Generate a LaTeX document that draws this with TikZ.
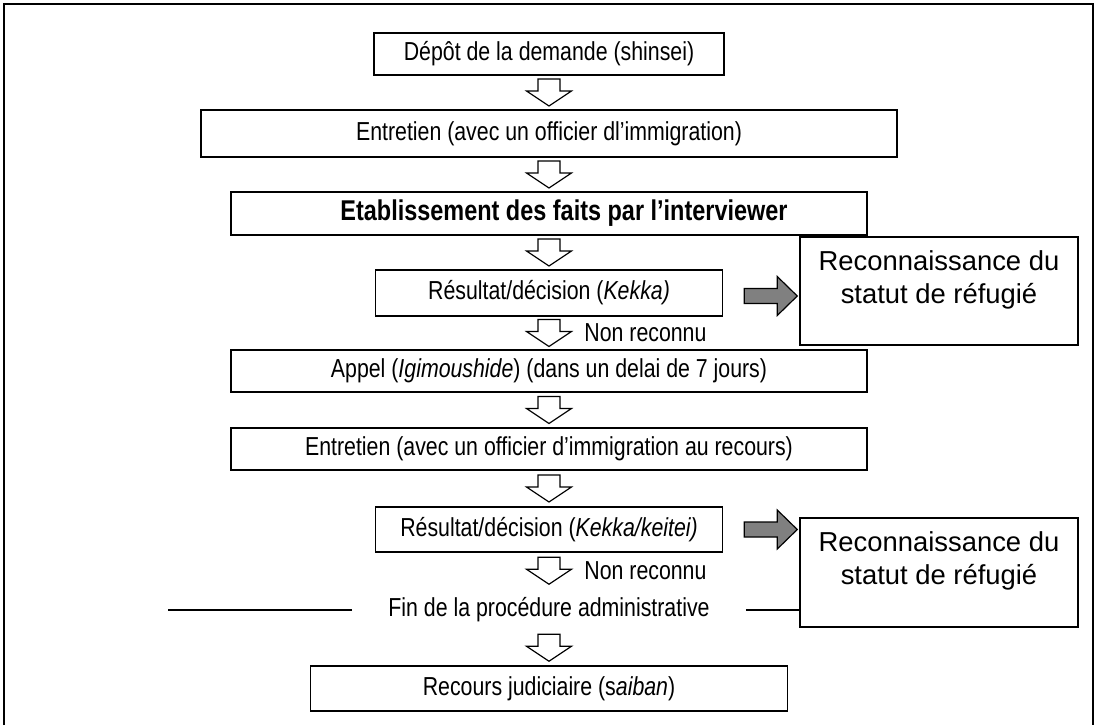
\documentclass[tikz,border=0pt]{standalone}
\usepackage{fontspec}
\setmainfont{Liberation Sans}
\newfontfamily\nar[FakeStretch=0.82]{Liberation Sans}
\usetikzlibrary{calc}
\definecolor{arrgray}{RGB}{128,128,128}
\tikzset{
  box/.style={draw, line width=0.75pt, inner sep=0pt,
    font=\nar\fontsize{13}{15}\selectfont},
  bigbox/.style={box, font=\nar\bfseries\fontsize{14.3}{17}\selectfont},
  rbox/.style={draw, line width=0.75pt, minimum width=139pt, minimum height=54pt, inner sep=0pt},
  rtext/.style={font=\fontsize{13.7}{16.5}\selectfont, align=center, anchor=north, inner sep=0pt},
  plain/.style={inner sep=0pt, font=\nar\fontsize{13}{15}\selectfont},
  hollowarr/.pic={\draw[line width=0.6pt, fill=white]
      (-11,-13.5) -- (11,-13.5) -- (11,-1.5) -- (22.5,-1.5) -- (0,13.5)
      -- (-22.5,-1.5) -- (-11,-1.5) -- cycle;},
  grayarr/.pic={\draw[line width=0.6pt, fill=arrgray]
      (-53,-7.5) -- (-20,-7.5) -- (-20,-19.5) -- (0,0) -- (-20,19.5)
      -- (-20,7.5) -- (-53,7.5) -- cycle;}
}
\begin{document}
\begin{tikzpicture}[x=0.5pt,y=-0.5pt]
\useasboundingbox (0,0) rectangle (1098,725);
% frame
\draw[line width=1pt] (4,725) -- (4,4) -- (1093,4) -- (1093,725);

% boxes
\node[box, minimum width=175pt, minimum height=21pt] (B1) at (549,54) {Dépôt de la demande (shinsei)};
\node[box, minimum width=348pt, minimum height=23.5pt] (B2) at (549,133.5) {Entretien (avec un officier dl’immigration)};
\node[bigbox, minimum width=318pt, minimum height=21.5pt] (B3) at (549,213.5) {\hspace*{15pt}Etablissement des faits par l’interviewer};
\node[box, minimum width=173.5pt, minimum height=23pt] (B4) at (549,293) {Résultat/décision (\textit{Kekka)}};
\node[box, minimum width=318pt, minimum height=21pt] (B5) at (549,371) {Appel (\textit{Igimoushide}) (dans un delai de 7 jours)};
\node[box, minimum width=318pt, minimum height=21pt] (B6) at (549,449) {Entretien (avec un officier d’immigration au recours)};
\node[box, minimum width=173.5pt, minimum height=22.5pt] (B7) at (549,529.5) {Résultat/décision (\textit{Kekka/keitei)}};
\node[plain, inner xsep=18pt] (FIN) at (549,610) {Fin de la procédure administrative};
\node[box, minimum width=238.5pt, minimum height=22.5pt] (B8) at (549,688.5) {Recours judiciaire (s\textit{aiban})};

% recognition boxes
\node[rbox] (R1) at (939,291) {};
\node[rtext] (R1t) at ($(R1.north)+(0,14)$) {Reconnaissance du\\statut de réfugié};
\node[rbox, minimum height=54.5pt] (R2) at (939,572.5) {};
\node[rtext] (R2t) at ($(R2.north)+(0,14)$) {Reconnaissance du\\statut de réfugié};

% hollow down arrows
\pic at ($(B1.south)!0.5!(B2.north)$) {hollowarr};
\pic at ($(B2.south)!0.5!(B3.north)$) {hollowarr};
\pic at ($(B3.south)!0.5!(B4.north)$) {hollowarr};
\pic at ($(B4.south)!0.5!(B5.north)$) {hollowarr};
\pic at ($(B5.south)!0.5!(B6.north)$) {hollowarr};
\pic at ($(B6.south)!0.5!(B7.north)$) {hollowarr};
\pic at ($(B7.south)+(0,18)$) {hollowarr};
\pic at ($(B8.north)+(0,-17.5)$) {hollowarr};

% Non reconnu labels
\node[plain, anchor=west] (NR1) at ($(B4.south)!0.5!(B5.north)+(35,0)$) {Non reconnu};
\node[plain, anchor=west] (NR2) at ($(B7.south)+(35,18)$) {Non reconnu};

% gray arrows
\pic at ($(R1.west |- B4.center)+(-2,3)$) {grayarr};
\pic at ($(R2.west |- B7.center)+(-2,0)$) {grayarr};

% end-of-procedure lines
\draw[line width=0.75pt] (FIN.west) -- ++(-184,0);
\draw[line width=0.75pt] (FIN.east) -- (FIN.east -| R2.west);
\end{tikzpicture}
\end{document}
